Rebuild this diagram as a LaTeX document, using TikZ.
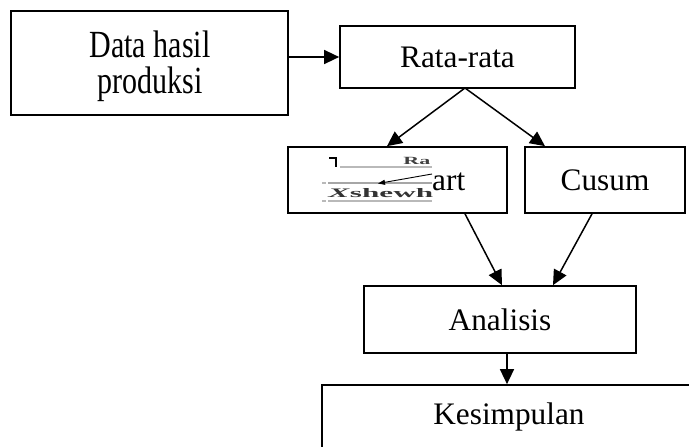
\documentclass[tikz,border=0pt]{standalone}
\usepackage{fontspec}
\setmainfont{Liberation Serif}
\usetikzlibrary{arrows.meta,calc}
\tikzset{
  box/.style={draw=black, line width=1.7pt, rectangle, inner sep=0pt, align=center,
    font=\fontsize{31.3}{39}\selectfont},
  lbl/.style={inner sep=0pt, font=\fontsize{31.3}{39}\selectfont},
  tall/.style={inner sep=0pt, anchor=base, font=\fontsize{30}{36}\selectfont},
  arr/.style={line width=1.5pt, -{Triangle[length=15pt,width=14pt]}},
  frag/.style={draw=gray!55, line width=1.4pt},
}
\begin{document}
\begin{tikzpicture}[x=1pt,y=-1pt]
\useasboundingbox (0,0) rectangle (689,447);
\clip (0,0) rectangle (689,447);
% boxes
\node[box, minimum width=277pt, minimum height=104pt] (data) at (149.5,63) {};
\node[tall] (data1) at (150,57.5) {\scalebox{1}[1.28]{Data hasil}};
\node[tall] (data2) at (150,93) {\scalebox{1}[1.28]{produksi}};
\node[box, minimum width=235pt, minimum height=62pt] (rata) at (457.5,57) {Rata-rata};
\node[box, minimum width=219pt, minimum height=66pt] (shew) at (397.5,180) {};
\node[box, minimum width=160pt, minimum height=66pt] (cusum) at (605,180) {Cusum};
\node[box, minimum width=272pt, minimum height=67pt] (anal) at (500,319.5) {Analisis};
\node[box, minimum width=378pt, minimum height=75pt] (kes) at (511,422.5) {};
\node[lbl] (kestext) at (509,417) {Kesimpulan};
% fragment inside the Shewhart box
\draw[frag] (340,167) -- (432,167);
\draw[draw=gray!70, line width=1.4pt] (328,183) -- (432,183);
\draw[frag] (328,201) -- (432,201);
\draw[frag] (322,183) -- (326,183);
\draw[frag] (322,201) -- (326,201);
\draw[line width=1.6pt] (329,158) -- (336,158) (336,157) -- (336,167);
\node[inner sep=0pt, anchor=west, text=black!75, xscale=2, transform shape,
  font=\fontsize{11}{12}\selectfont\bfseries] (ra) at (403,161) {Ra};
\node[inner sep=0pt, anchor=west, text=black!80, xscale=2.4, transform shape,
  font=\fontsize{13}{14}\selectfont\bfseries] (xsh) at (328,193) {\textit{X}shewh};
\coordinate (fa) at (432,174);
\coordinate (fb) at (378,183.5);
\draw[line width=0.9pt, -{Triangle[length=7pt,width=5pt]}] (fa) -- (fb);
\node[lbl, anchor=west] (art) at (432,182) {art};
% connectors
\coordinate (apex) at (465,88);
\draw[arr] (data.east |- rata.west) -- (rata.west);
\draw[arr] (apex) -- ($(shew.north)+(-10.5,0)$);
\draw[arr] (apex) -- ($(cusum.north)+(-60,0)$);
\draw[arr] ($(shew.south)+(67.5,0)$) -- ($(anal.north)+(2,0)$);
\draw[arr] ($(cusum.south)+(-13,0)$) -- ($(anal.north)+(53,0)$);
\draw[arr] ($(anal.south)+(7,0)$) -- ($(kes.north)+(-4,0)$);
\end{tikzpicture}
\end{document}
